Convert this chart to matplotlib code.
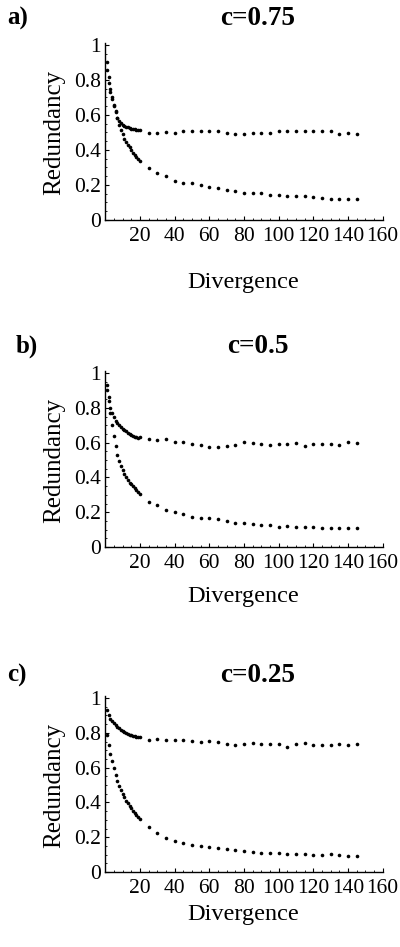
import matplotlib
matplotlib.use("Agg")
import matplotlib.pyplot as plt
from matplotlib.ticker import MultipleLocator

plt.rcParams["font.family"] = ["Liberation Serif", "DejaVu Serif"]

# divergence values: dense part 1..19, then every 5 from 20 to 145
divergence = list(range(1, 20)) + list(range(20, 150, 5))

panel_letters = ["a)", "b)", "c)"]
panel_titles = ["c=0.75", "c=0.5", "c=0.25"]

upper_a = [0.90, 0.82, 0.75, 0.70, 0.655, 0.62, 0.585, 0.565, 0.552, 0.543,
           0.538, 0.534, 0.530, 0.526, 0.522, 0.520, 0.518, 0.517, 0.515,
           0.514, 0.495, 0.495, 0.503, 0.499, 0.507, 0.507, 0.511, 0.511, 0.507,
           0.499, 0.491, 0.491, 0.499, 0.495, 0.495, 0.509, 0.511, 0.507, 0.507,
           0.507, 0.507, 0.507, 0.493, 0.497, 0.491]
lower_a = [0.86, 0.78, 0.73, 0.69, 0.65, 0.615, 0.58, 0.545, 0.515, 0.49,
           0.465, 0.447, 0.43, 0.415, 0.40, 0.385, 0.372, 0.36, 0.35,
           0.339, 0.299, 0.267, 0.251, 0.225, 0.210, 0.210, 0.200, 0.187, 0.181,
           0.171, 0.164, 0.156, 0.156, 0.152, 0.145, 0.145, 0.139, 0.139, 0.137,
           0.130, 0.124, 0.120, 0.120, 0.120, 0.118]

upper_b = [0.93, 0.86, 0.80, 0.77, 0.745, 0.725, 0.71, 0.70, 0.69, 0.68,
           0.672, 0.664, 0.656, 0.65, 0.645, 0.64, 0.635, 0.632, 0.628,
           0.630, 0.619, 0.615, 0.621, 0.605, 0.602, 0.592, 0.586, 0.577, 0.577,
           0.582, 0.586, 0.605, 0.598, 0.590, 0.586, 0.590, 0.592, 0.598, 0.580,
           0.592, 0.592, 0.590, 0.586, 0.602, 0.598]
lower_b = [0.90, 0.84, 0.77, 0.70, 0.64, 0.58, 0.53, 0.495, 0.465, 0.44,
           0.42, 0.40, 0.385, 0.37, 0.36, 0.35, 0.34, 0.328, 0.315,
           0.305, 0.257, 0.241, 0.213, 0.203, 0.190, 0.174, 0.169, 0.169, 0.159,
           0.149, 0.136, 0.136, 0.130, 0.126, 0.125, 0.117, 0.121, 0.117, 0.117,
           0.113, 0.107, 0.109, 0.109, 0.109, 0.109]

upper_c = [0.93, 0.90, 0.88, 0.865, 0.855, 0.845, 0.835, 0.826, 0.818, 0.812,
           0.806, 0.80, 0.795, 0.79, 0.787, 0.784, 0.781, 0.778, 0.776,
           0.774, 0.759, 0.762, 0.759, 0.759, 0.759, 0.755, 0.749, 0.753, 0.745,
           0.736, 0.732, 0.734, 0.739, 0.737, 0.737, 0.736, 0.717, 0.734, 0.739,
           0.732, 0.732, 0.728, 0.737, 0.730, 0.734]
lower_c = [0.79, 0.73, 0.68, 0.64, 0.60, 0.56, 0.525, 0.495, 0.47, 0.448,
           0.43, 0.41, 0.395, 0.38, 0.365, 0.352, 0.34, 0.328, 0.318,
           0.305, 0.257, 0.222, 0.197, 0.180, 0.165, 0.155, 0.149, 0.142, 0.136,
           0.130, 0.126, 0.122, 0.117, 0.111, 0.107, 0.107, 0.103, 0.102, 0.103,
           0.100, 0.096, 0.102, 0.098, 0.094, 0.092]

x_ticks = [20, 40, 60, 80, 100, 120, 140, 160]
y_ticks = [0, 0.2, 0.4, 0.6, 0.8, 1]
y_tick_labels = ["0", "0.2", "0.4", "0.6", "0.8", "1"]

W, H = 400, 947
fig = plt.figure(figsize=(W / 100, H / 100), dpi=100)

# pixel layout of each panel: (y of value 0, y of value 1, header baseline, xlabel baseline)
layout = [(220, 45, 25, 288), (547, 373, 353, 602), (872, 698, 682, 920)]
letter_x = [7, 16, 7]
x0_px, x160_px = 105.3, 382.5

series = [(upper_a, lower_a), (upper_b, lower_b), (upper_c, lower_c)]

for i, (up, lo) in enumerate(series):
    y0, y1, head, xlab = layout[i]
    top = 1.01
    h_px = (y0 - y1) * top
    ax = fig.add_axes([x0_px / W, 1 - y0 / H, (x160_px - x0_px) / W, h_px / H])
    ax.plot(divergence, up, "o", color="black", markersize=2.6, markeredgewidth=0)
    ax.plot(divergence, lo, "o", color="black", markersize=2.6, markeredgewidth=0)
    ax.set_xlim(0, 160)
    ax.set_ylim(0, top)
    for s in ("top", "right"):
        ax.spines[s].set_visible(False)
    for s in ("left", "bottom"):
        ax.spines[s].set_linewidth(1.0)
    ax.set_xticks(x_ticks)
    ax.set_yticks(y_ticks)
    ax.set_yticklabels(y_tick_labels)
    ax.xaxis.set_minor_locator(MultipleLocator(5))
    ax.yaxis.set_minor_locator(MultipleLocator(0.05))
    ax.tick_params(which="major", direction="in", length=3, width=0.8,
                   labelsize=15.5, pad=3)
    ax.tick_params(which="minor", direction="in", length=1.5, width=0.6)
    ax.tick_params(axis="x", pad=5)
    ax.set_facecolor("none")

    ylab_y = 1 - ((y0 + y1) / 2) / H
    fig.text(54 / W, ylab_y, "Redundancy", rotation=90, ha="center",
             va="center", fontsize=18)
    fig.text(243 / W, 1 - xlab / H, "Divergence", ha="center",
             va="baseline", fontsize=17.5)
    fig.text(258 / W, 1 - head / H, panel_titles[i], ha="center",
             va="baseline", fontsize=19.5, fontweight="bold")
    fig.text(letter_x[i] / W, 1 - head / H, panel_letters[i], ha="left",
             va="baseline", fontsize=18, fontweight="bold")

fig.savefig("out.png", dpi=100, facecolor="white")
